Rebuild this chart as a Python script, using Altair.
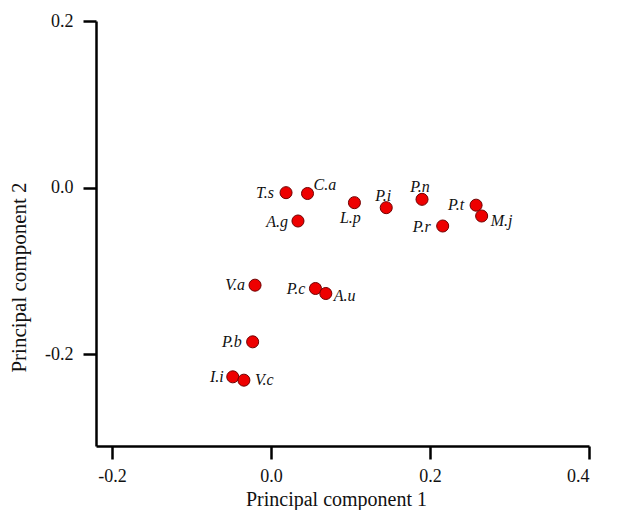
import altair as alt
import pandas as pd

names = ["T.s", "C.a", "A.g", "L.p", "P.i", "P.n", "P.r", "P.t", "M.j",
         "V.a", "P.c", "A.u", "P.b", "I.i", "V.c"]
pc1 = [0.019, 0.046, 0.034, 0.105, 0.145, 0.190, 0.216, 0.258, 0.265,
       -0.020, 0.056, 0.069, -0.023, -0.048, -0.034]
pc2 = [-0.006, -0.007, -0.040, -0.018, -0.024, -0.014, -0.046, -0.021, -0.034,
       -0.117, -0.121, -0.127, -0.185, -0.227, -0.231]

x_ticks = [-0.2, 0.0, 0.2, 0.4]
y_ticks = [-0.2, 0.0, 0.2]
x_domain = [-0.22, 0.4]
y_domain = [-0.31, 0.2]

# label placement: (align, dx, dy)
placement = {
    "T.s": ("right", -12, 0), "C.a": ("left", 6, -9), "A.g": ("right", -10, 1),
    "L.p": ("center", -4, 15), "P.i": ("center", -3, -12), "P.n": ("center", -2, -12),
    "P.r": ("right", -12, 1), "P.t": ("right", -12, 0), "M.j": ("left", 9, 5),
    "V.a": ("right", -10, 0), "P.c": ("right", -10, 0), "A.u": ("left", 8, 2),
    "P.b": ("right", -11, 0), "I.i": ("right", -9, 0), "V.c": ("left", 11, 0),
}

df = pd.DataFrame({"name": names, "pc1": pc1, "pc2": pc2})

FONT = "Liberation Serif"
lab_expr = "datum.value < 0 ? '-' + format(-datum.value, '.1f') : format(datum.value, '.1f')"

x = alt.X("pc1:Q", scale=alt.Scale(domain=x_domain, nice=False, zero=False),
          axis=alt.Axis(values=x_ticks, labelExpr=lab_expr, title="Principal component 1",
                        titleY=59, titleBaseline="alphabetic", titleX=240))
y = alt.Y("pc2:Q", scale=alt.Scale(domain=y_domain, nice=False, zero=False),
          axis=alt.Axis(values=y_ticks, labelExpr=lab_expr, title="Principal component 2",
                        titleX=-77, titleY=256, titleBaseline="middle", titleAngle=270,
                        titleFontSize=21))

base = alt.Chart(df)
points = base.mark_circle(size=145, color="#ee0000", opacity=1,
                          stroke="#700000", strokeWidth=1).encode(x=x, y=y)

layers = [points]
for n in names:
    al, dx, dy = placement[n]
    layers.append(
        base.transform_filter(alt.datum.name == n)
        .mark_text(align=al, baseline="middle", dx=dx, dy=dy, font=FONT,
                   fontStyle="italic", fontSize=16, color="#111111")
        .encode(x=x, y=y, text="name:N")
    )

chart = alt.layer(*layers).properties(
    width=493, height=425,
    autosize=alt.AutoSizeParams(type="none"),
    padding={"left": 88, "top": 13, "right": 30, "bottom": 64},
).configure_view(stroke=None).configure_axis(
    grid=False,
    domainColor="#000000", domainWidth=2.5,
    tickColor="#000000", tickWidth=2.5, tickSize=13,
    labelFont=FONT, labelFontSize=18, labelColor="#111111", labelPadding=8,
    titleFont=FONT, titleFontSize=20, titleFontWeight="normal", titleColor="#111111",
).configure_axisY(labelPadding=10)

chart.save("out.html", embed_options={"renderer": "svg", "actions": False})
